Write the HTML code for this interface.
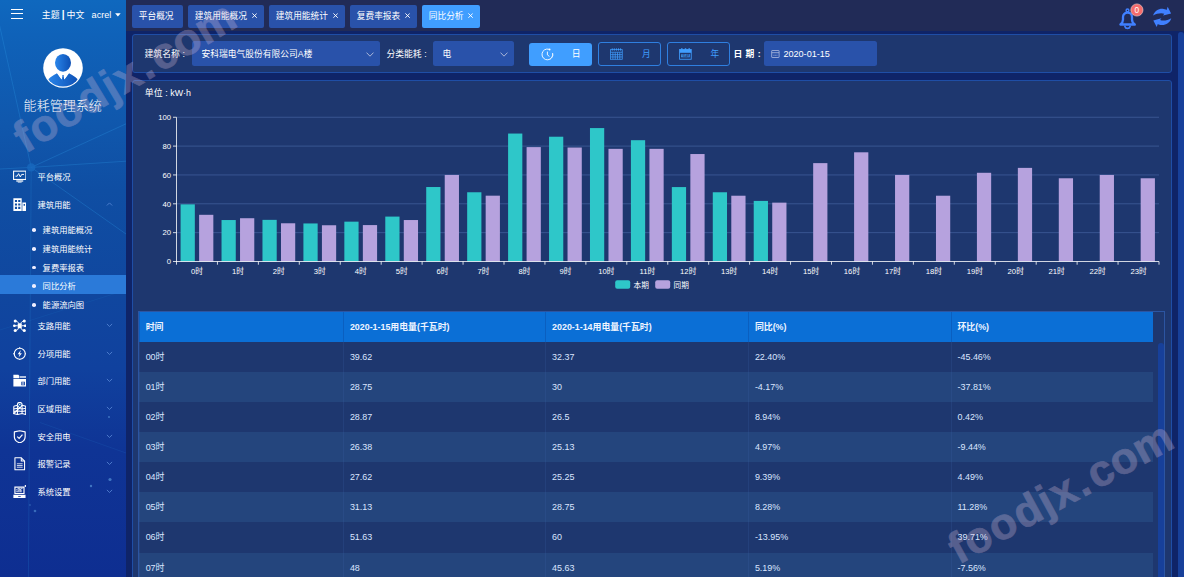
<!DOCTYPE html>
<html lang="zh-CN"><head><meta charset="utf-8"><title>能耗管理系统</title>
<style>
html,body{margin:0;padding:0;background:#0f2468;}
body{width:1184px;height:577px;overflow:hidden;font-family:"Liberation Sans","Noto Sans CJK SC",sans-serif;color:#fff;}
#app{position:relative;width:1184px;height:577px;overflow:hidden;background:#0f2468;}
#side{position:absolute;left:0;top:0;width:125.5px;height:577px;overflow:hidden;
 background:linear-gradient(180deg,#0f68be 0%,#0f62b9 6%,#1057ac 22%,#0f4ea3 33%,#10479f 50%,#10419e 64%,#0f3495 78%,#0e2e91 100%);}
#side .net{position:absolute;left:0;top:0;}
#topbar{position:absolute;left:125.5px;top:0;width:1058.5px;height:31px;background:#212b57;}
.tab{position:absolute;top:5px;height:23px;line-height:22px;background:#2952aa;border-radius:2px;font-size:8.7px;color:#fff;white-space:nowrap;box-sizing:border-box;padding-left:6.6px;}
.tab.on{background:#409eff;}
.tab svg{margin-left:4.6px;position:relative;top:-0.7px;}
.panel{position:absolute;background:#1e376f;border:1px solid #1f4ea6;box-sizing:border-box;border-radius:3px;}
.lbl{position:absolute;font-size:8.8px;white-space:nowrap;line-height:12px;}
.sel{position:absolute;top:41.3px;height:25.2px;background:#2952aa;border-radius:2.5px;font-size:8.75px;line-height:26.4px;box-sizing:border-box;white-space:nowrap;}
.btn{position:absolute;top:42.3px;height:23.6px;border-radius:3px;box-sizing:border-box;}
.ax{font-size:7.7px;fill:#fff;font-family:"Liberation Sans","Noto Sans CJK SC",sans-serif;}
#tbl{position:absolute;left:138.75px;top:0;}
.thead{position:absolute;left:0;top:312px;width:1014.65px;height:29.6px;background:#0b6fd6;}
.th{position:absolute;top:0;height:29.6px;line-height:30px;font-size:8.9px;font-weight:bold;color:#eef4ff;box-sizing:border-box;padding-left:5.9px;border-left:1px solid #0a5fc0;white-space:nowrap;}
.tr{position:absolute;left:0;width:1014.65px;height:30.13px;background:#1e376f;}
.tr.even{background:#24457d;}
.td{position:absolute;top:0;height:30.13px;line-height:31.8px;font-size:8.95px;color:#dbe6ff;box-sizing:border-box;padding-left:5.9px;border-left:1px solid rgba(60,100,170,0.22);white-space:nowrap;}
.mi{position:absolute;left:0;width:125.5px;height:16px;}
.mi .ico{position:absolute;left:12.9px;top:1.2px;width:13.5px;height:13.5px;}
.mi .mt{position:absolute;left:37.4px;top:0;line-height:16px;font-size:8.3px;white-space:nowrap;}
.mi .arr{position:absolute;left:105.5px;top:5.3px;width:7px;height:4.4px;}
.si{position:absolute;left:0;width:125.5px;height:12px;font-size:8.3px;line-height:12px;white-space:nowrap;}
.si .dot{position:absolute;left:32px;top:4.2px;width:3.6px;height:3.6px;border-radius:50%;background:#eef;}
.si span{position:absolute;left:42.6px;top:0;}
.wm{position:absolute;font-family:"Liberation Sans",sans-serif;font-weight:bold;color:rgb(214,188,216);-webkit-text-stroke:0.7px rgb(214,188,216);opacity:0.3;white-space:nowrap;transform-origin:0 100%;line-height:1;letter-spacing:1.1px;}
</style></head><body>
<svg width="0" height="0" style="position:absolute"><defs>
<g id="i1" fill="none" stroke="#fff"><rect x="0.6" y="1.2" width="12.8" height="8.6" stroke-width="1.1"/><path d="M2.6 6.4 L4.4 6.4 L5.8 3.8 L7.6 7.2 L9 4.6 L11.4 4.6" stroke-width="1"/><path d="M3.4 11.4 H10.6" stroke-width="1.3"/><path d="M5 12.6 H9" stroke-width="0.8"/></g>
<g id="i2" fill="#fff"><path d="M0.4 0.2 H9 V14 H0.4 Z M2 2 V4.2 H4.2 V2 Z M5.4 2 V4.2 H7.6 V2 Z M2 5.6 V7.8 H4.2 V5.6 Z M5.4 5.6 V7.8 H7.6 V5.6 Z M2 9.2 V11.4 H4.2 V9.2 Z M5.4 9.2 V11.4 H7.6 V9.2 Z" fill-rule="evenodd"/><path d="M9.7 4.6 H13.6 V14 H9.7 Z M11 6.2 V8 H12.4 V6.2 Z" fill-rule="evenodd"/></g>
<g id="i3" fill="#fff" stroke="#fff"><rect x="4.9" y="4.3" width="4.2" height="5.4" rx="0.9" stroke="none"/><g stroke-width="1" fill="none"><path d="M5.6 4.6 C5.4 3 4.4 2.4 2.6 2.2 M8.4 4.6 C8.6 3 9.6 2.4 11.4 2.2 M5.6 9.4 C5.4 11 4.4 11.6 2.6 11.8 M8.4 9.4 C8.6 11 9.6 11.6 11.4 11.8 M4.9 7 H1.6 M9.1 7 H12.4"/></g><g stroke="none"><circle cx="2.3" cy="2.1" r="1.6"/><circle cx="11.7" cy="2.1" r="1.6"/><circle cx="2.3" cy="11.9" r="1.6"/><circle cx="11.7" cy="11.9" r="1.6"/><circle cx="1.4" cy="7" r="1.4"/><circle cx="12.6" cy="7" r="1.4"/></g></g>
<g id="i4" fill="none" stroke="#fff"><circle cx="7" cy="7" r="5.7" stroke-width="1.2"/><path d="M7 0 V1.6 M7 12.4 V14 M0 7 H1.6 M12.4 7 H14" stroke-width="0.9"/><path d="M8.2 3.2 L4.8 7.6 H6.8 L5.8 10.8 L9.2 6.4 H7.2 Z" fill="#fff" stroke="none"/></g>
<g id="i5" fill="#fff"><path d="M0.4 0.8 H5.6 L6.6 2.2 V4.4 H0.4 Z"/><path d="M7.2 2.4 H13.6 V3.8 H7.2 Z"/><path d="M0.4 5.2 H13.6 V13 H0.4 Z M8.6 8 V11.6 H12.4 V8 Z M9.4 8.9 H11.6 V9.5 H9.4 Z M9.4 10.2 H11.6 V10.8 H9.4 Z" fill-rule="evenodd"/></g>
<g id="i6" fill="none" stroke="#fff" stroke-width="1.1"><path d="M0.8 4.4 L4.6 3.4 M9.4 3.4 L13.2 4.4 V13 L9.4 12 L4.6 13 L0.8 12 Z"/><path d="M0.8 4.4 V12 M4.6 3.6 V13 M9.4 3.6 V12 M0.8 7.2 L4.6 6.4 L9.4 7.2 L13.2 6.4 M0.8 9.8 L4.6 9.2 L9.4 9.8 L13.2 9.2"/><path d="M7 0.4 C5.4 0.4 4.6 1.6 4.6 2.6 C4.6 4 7 6.4 7 6.4 C7 6.4 9.4 4 9.4 2.6 C9.4 1.6 8.6 0.4 7 0.4 Z" fill="#0f50a6"/><circle cx="7" cy="2.6" r="0.7" fill="#fff" stroke="none"/></g>
<g id="i7" fill="none" stroke="#fff" stroke-width="1.2"><path d="M7 0.8 L12.6 2 V7 C12.6 10 10 12.4 7 13.4 C4 12.4 1.4 10 1.4 7 V2 Z" stroke-linejoin="round"/><path d="M4.4 6.8 L6.4 8.8 L9.8 4.8"/></g>
<g id="i8" fill="none" stroke="#fff" stroke-width="1.1"><path d="M2 0.8 H8.6 L12 4.2 V13.2 H2 Z" stroke-linejoin="round"/><path d="M8.6 0.8 V4.2 H12"/><path d="M4 7 H10 M4 8.8 H10 M4 10.6 H10" stroke-width="1" stroke-opacity="0.8"/></g>
<g id="i9" fill="#fff"><path d="M1.4 1.6 H12 V9.4 H1.4 Z M2.6 2.8 V8.2 H10.8 V2.8 Z" fill-rule="evenodd"/><path d="M3.6 7.6 V5.6 H4.8 V7.6 Z M5.6 7.6 V4.4 H6.8 V7.6 Z M7.6 7.6 V5 H8.8 V7.6 Z M3.2 4.6 L6 3.2 L7.6 4 L10 2.8 L10.2 3.4 L7.6 4.8 L6 4 L3.4 5.2 Z"/><path d="M0.4 10.2 H13 V13.4 H0.4 Z M5.4 11.4 V12.2 H8 V11.4 Z" fill-rule="evenodd"/><circle cx="13" cy="1" r="1"/></g>
</defs></svg>

<div id="app">
<div id="side">
<svg class="net" width="126" height="577" viewBox="0 0 126 577">
<g stroke="#2f9be6" stroke-opacity="0.36" stroke-width="0.8" fill="none">
<path d="M-0.5 25 L31.2 167.4 L126 123.8"/><path d="M31.2 167.4 L126 161.2"/><path d="M31.2 167.4 L126 234"/><path d="M31.2 167.4 L0 169"/><path d="M31.2 167.4 L28.4 577" stroke-opacity="0.22"/><path d="M0 330 L126 290" stroke-opacity="0.12"/><path d="M40 422.5 L126 453" stroke-opacity="0.15"/>
</g>
<circle cx="31.2" cy="167.4" r="4.2" fill="#1767bd" fill-opacity="0.85"/>
<circle cx="110" cy="479.5" r="1.6" fill="#62a4e2" fill-opacity="0.6"/><circle cx="91" cy="486" r="1.2" fill="#62a4e2" fill-opacity="0.6"/><circle cx="35" cy="511" r="1.3" fill="#62a4e2" fill-opacity="0.5"/><circle cx="30" cy="505" r="0.8" fill="#62a4e2" fill-opacity="0.5"/><circle cx="109" cy="417" r="0.9" fill="#62a4e2" fill-opacity="0.6"/>
</svg>
<div style="position:absolute;left:0;top:274.5px;width:125.5px;height:19px;background:#2b7ad9;"></div>
<!-- hamburger -->
<div style="position:absolute;left:11.2px;top:8.6px;width:11.9px;height:1.1px;background:#fff"></div>
<div style="position:absolute;left:11.2px;top:13.4px;width:11.9px;height:1.1px;background:#fff"></div>
<div style="position:absolute;left:11.2px;top:18.3px;width:11.9px;height:1.1px;background:#fff"></div>
<div class="lbl" style="left:41.8px;top:9.2px;font-size:8.9px;">主题<span style="margin:0 2px 0 2.2px;font-weight:bold;font-size:10px;position:relative;top:-0.4px">|</span>中文</div>
<div class="lbl" style="left:91.6px;top:9px;font-size:9.1px;">acrel</div>
<svg style="position:absolute;left:115px;top:13.1px" width="6" height="4" viewBox="0 0 6 4"><path d="M0.1 0.2 H5.7 L2.9 3.4 Z" fill="#fff"/></svg>
<svg style="position:absolute;left:43px;top:47.6px" width="40" height="40" viewBox="0 0 40 40">
<defs><linearGradient id="ag" x1="0" x2="1" y1="0" y2="0"><stop offset="0" stop-color="#2a86ea"/><stop offset="1" stop-color="#0c4fb4"/></linearGradient>
<clipPath id="ac"><circle cx="20" cy="20" r="18.6"/></clipPath></defs>
<circle cx="20" cy="20" r="19.8" fill="#fff"/>
<ellipse cx="20" cy="14.8" rx="8" ry="8.9" fill="url(#ag)"/>
<path clip-path="url(#ac)" d="M4 40 L4 33 Q6 29.5 14 25.3 L18.6 31.5 L20 28.5 L21.4 31.5 L26 25.3 Q34 29.5 36 33 L36 40 Z" fill="url(#ag)"/>
<path d="M14.2 25 L17 23.6 L19.3 28.2 L18.4 31 Z M25.8 25 L23 23.6 L20.7 28.2 L21.6 31 Z" fill="#fff"/>
<path d="M19 27.2 L21 27.2 L20.6 28.6 L21.2 31.8 L20 33.2 L18.8 31.8 L19.4 28.6 Z" fill="url(#ag)"/>
</svg>
<div style="position:absolute;left:0;top:97px;width:125.5px;text-align:center;font-size:13px;font-weight:300;line-height:18px;letter-spacing:0.05px;">能耗管理系统</div>
<div class="mi" style="top:168.90px"><svg class="ico" viewBox="0 0 14 14"><use href="#i1"/></svg><span class="mt">平台概况</span>
</div>
<div class="mi" style="top:196.70px"><svg class="ico" viewBox="0 0 14 14"><use href="#i2"/></svg><span class="mt">建筑用能</span>
<svg class="arr" viewBox="0 0 8 5"><path d="M1 4 L4 1 L7 4" fill="none" stroke="#5a8ad8" stroke-width="0.9"/></svg>
</div>
<div class="mi" style="top:318.00px"><svg class="ico" viewBox="0 0 14 14"><use href="#i3"/></svg><span class="mt">支路用能</span>
<svg class="arr" viewBox="0 0 8 5"><path d="M1 1 L4 4 L7 1" fill="none" stroke="#5a8ad8" stroke-width="0.9"/></svg>
</div>
<div class="mi" style="top:345.60px"><svg class="ico" viewBox="0 0 14 14"><use href="#i4"/></svg><span class="mt">分项用能</span>
<svg class="arr" viewBox="0 0 8 5"><path d="M1 1 L4 4 L7 1" fill="none" stroke="#5a8ad8" stroke-width="0.9"/></svg>
</div>
<div class="mi" style="top:373.20px"><svg class="ico" viewBox="0 0 14 14"><use href="#i5"/></svg><span class="mt">部门用能</span>
<svg class="arr" viewBox="0 0 8 5"><path d="M1 1 L4 4 L7 1" fill="none" stroke="#5a8ad8" stroke-width="0.9"/></svg>
</div>
<div class="mi" style="top:400.80px"><svg class="ico" viewBox="0 0 14 14"><use href="#i6"/></svg><span class="mt">区域用能</span>
<svg class="arr" viewBox="0 0 8 5"><path d="M1 1 L4 4 L7 1" fill="none" stroke="#5a8ad8" stroke-width="0.9"/></svg>
</div>
<div class="mi" style="top:428.50px"><svg class="ico" viewBox="0 0 14 14"><use href="#i7"/></svg><span class="mt">安全用电</span>
<svg class="arr" viewBox="0 0 8 5"><path d="M1 1 L4 4 L7 1" fill="none" stroke="#5a8ad8" stroke-width="0.9"/></svg>
</div>
<div class="mi" style="top:456.10px"><svg class="ico" viewBox="0 0 14 14"><use href="#i8"/></svg><span class="mt">报警记录</span>
<svg class="arr" viewBox="0 0 8 5"><path d="M1 1 L4 4 L7 1" fill="none" stroke="#5a8ad8" stroke-width="0.9"/></svg>
</div>
<div class="mi" style="top:483.60px"><svg class="ico" viewBox="0 0 14 14"><use href="#i9"/></svg><span class="mt">系统设置</span>
<svg class="arr" viewBox="0 0 8 5"><path d="M1 1 L4 4 L7 1" fill="none" stroke="#5a8ad8" stroke-width="0.9"/></svg>
</div>
<div class="si" style="top:223.75px"><i class="dot"></i><span>建筑用能概况</span></div>
<div class="si" style="top:242.75px"><i class="dot"></i><span>建筑用能统计</span></div>
<div class="si" style="top:261.50px"><i class="dot"></i><span>复费率报表</span></div>
<div class="si" style="top:280.30px"><i class="dot"></i><span>同比分析</span></div>
<div class="si" style="top:299.20px"><i class="dot"></i><span>能源流向图</span></div>
</div>

<div id="topbar">
<div class="tab" style="left:6.7px;width:51px;">平台概况</div>
<div class="tab" style="left:62.7px;width:76px;">建筑用能概况<svg width="5.2" height="5.2" viewBox="0 0 5 5"><path d="M0.4 0.4 L4.6 4.6 M4.6 0.4 L0.4 4.6" stroke="#fff" stroke-width="0.9" fill="none"/></svg></div>
<div class="tab" style="left:143.7px;width:76px;">建筑用能统计<svg width="5.2" height="5.2" viewBox="0 0 5 5"><path d="M0.4 0.4 L4.6 4.6 M4.6 0.4 L0.4 4.6" stroke="#fff" stroke-width="0.9" fill="none"/></svg></div>
<div class="tab" style="left:224.7px;width:67px;">复费率报表<svg width="5.2" height="5.2" viewBox="0 0 5 5"><path d="M0.4 0.4 L4.6 4.6 M4.6 0.4 L0.4 4.6" stroke="#fff" stroke-width="0.9" fill="none"/></svg></div>
<div class="tab on" style="left:296.7px;width:58px;">同比分析<svg width="5.2" height="5.2" viewBox="0 0 5 5"><path d="M0.4 0.4 L4.6 4.6 M4.6 0.4 L0.4 4.6" stroke="#fff" stroke-width="0.9" fill="none"/></svg></div>
<svg style="position:absolute;left:-125.5px;top:0" width="1184" height="31" viewBox="0 0 1184 31">
<g fill="none" stroke="#4080ff" stroke-linejoin="round" stroke-linecap="round">
<path d="M1120.4 24.5 C1122.4 23 1123 21.5 1123 19.5 L1123 17 C1123 14.4 1125 12.7 1127.5 12.7 C1130 12.7 1132 14.4 1132 17 L1132 19.5 C1132 21.5 1132.6 23 1134.8 24.5 Z" stroke-width="2.3"/>
<circle cx="1127.5" cy="10.4" r="1.4" stroke-width="1.4"/>
<path d="M1124.9 26.4 a2.7 2.7 0 0 0 5.2 0" stroke-width="1.7"/>
</g>
<circle cx="1136.9" cy="10" r="6.1" fill="#f56c6c" stroke="#f9d3d3" stroke-width="0.6"/>
<text x="1136.9" y="13" text-anchor="middle" font-size="8.3" fill="#fff" font-family='"Liberation Sans","Noto Sans CJK SC",sans-serif'>0</text>
<g fill="#4080ff" transform="translate(1110 0)">
<path id="ra" d="M43.1 15.5 C44.4 11 48.5 8.5 52.6 8.7 C54.3 8.8 55.6 9.3 56.6 9.9 L57.7 6.8 L61.1 13.4 L53 15.5 L54.3 13.8 C53.3 13.4 52.3 13.2 51.2 13.2 C48.4 13.2 45.6 13.9 43.1 15.5 Z"/>
<use href="#ra" transform="rotate(180 52.2 16.9)"/>
</g>
</svg>
</div>

<!-- right scrollbar strip -->
<div style="position:absolute;left:1178.4px;top:31.5px;width:6px;height:560px;background:#17409a;border-radius:3px 3px 0 0;"></div>

<!-- filter panel -->
<div class="panel" style="left:131.5px;top:34px;width:1040.7px;height:38.9px;"></div>
<div class="lbl" style="left:144.6px;top:48.3px;">建筑名称<span style="margin-left:2.6px">:</span></div>
<div class="sel" style="left:192px;width:188px;padding-left:9.6px;">安科瑞电气股份有限公司A楼
<svg style="position:absolute;right:6.2px;top:10.6px" width="8" height="5" viewBox="0 0 8 5"><path d="M0.5 0.6 L4 4.2 L7.5 0.6" fill="none" stroke="#c0c8e0" stroke-width="0.85"/></svg></div>
<div class="lbl" style="left:386.4px;top:48.3px;">分类能耗<span style="margin-left:2.6px">:</span></div>
<div class="sel" style="left:433px;width:81px;padding-left:9.6px;">电
<svg style="position:absolute;right:6.2px;top:10.6px" width="8" height="5" viewBox="0 0 8 5"><path d="M0.5 0.6 L4 4.2 L7.5 0.6" fill="none" stroke="#c0c8e0" stroke-width="0.85"/></svg></div>
<div class="btn" style="left:529px;width:63px;background:#409eff;top:42.6px;height:23.4px;">
<svg style="position:absolute;left:11.7px;top:5.3px" width="13" height="13" viewBox="0 0 13 13"><path d="M8.1 1.3 A5.4 5.4 0 1 0 11.6 5" fill="none" stroke="#fff" stroke-width="0.9"/><circle cx="8.6" cy="1.5" r="0.9" fill="#fff"/><path d="M6.4 3.6 L6.4 6.9 L8.4 8.4" fill="none" stroke="#fff" stroke-width="0.9"/><path d="M11.7 6.5 A5.4 5.4 0 0 1 9.5 10.9" fill="none" stroke="#fff" stroke-width="0.9" stroke-dasharray="1.2 0.9"/></svg>
<span style="position:absolute;left:42.8px;top:5.8px;font-size:8.8px;line-height:12px;">日</span></div>
<div class="btn" style="left:598px;width:63px;border:1px solid #2f7fe0;">
<svg style="position:absolute;left:11px;top:4.8px" width="13" height="12" viewBox="0 0 14 13"><g fill="none" stroke="#409eff" stroke-width="0.8"><rect x="0.6" y="1.8" width="12.6" height="10.4"/><path d="M0.6 4.6 H13.2 M0.6 7.2 H13.2 M0.6 9.7 H13.2 M3.1 4.6 V12.2 M5.6 4.6 V12.2 M8.1 4.6 V12.2 M10.6 4.6 V12.2"/><path d="M2.4 0.4 V2.8 M4.6 0.4 V2.8 M6.9 0.4 V2.8 M9.2 0.4 V2.8 M11.4 0.4 V2.8" stroke-width="1"/></g></svg>
<span style="position:absolute;left:43px;top:4.8px;font-size:8.6px;line-height:12px;color:#409eff;">月</span></div>
<div class="btn" style="left:667px;width:63px;border:1px solid #2f7fe0;">
<svg style="position:absolute;left:10.9px;top:4.9px" width="13" height="12" viewBox="0 0 14 13"><rect x="0.6" y="1.6" width="12.6" height="3.6" fill="#409eff"/><rect x="0.6" y="1.6" width="12.6" height="10.6" fill="none" stroke="#409eff" stroke-width="0.9"/><path d="M3 0.3 V2 M7 0.3 V2 M11 0.3 V2" stroke="#409eff" stroke-width="1.6"/><rect x="2.2" y="6.6" width="9.4" height="3.4" fill="#409eff"/><text x="6.9" y="9.5" text-anchor="middle" font-size="3.2" font-weight="bold" fill="#1e376f" font-family="Liberation Sans,sans-serif">YEAR</text></svg>
<span style="position:absolute;left:42.4px;top:4.8px;font-size:8.6px;line-height:12px;color:#409eff;">年</span></div>
<div class="lbl" style="left:733.4px;top:48.3px;font-weight:bold;">日<span style="margin-left:3.2px">期</span><span style="margin-left:3.6px">:</span></div>
<div class="sel" style="left:764px;width:113px;padding-left:19.4px;font-size:9.1px;">2020-01-15
<svg style="position:absolute;left:7px;top:8.2px" width="9" height="9" viewBox="0 0 9 9"><rect x="0.7" y="1.5" width="7.4" height="7" rx="0.4" fill="none" stroke="#aebbe0" stroke-width="0.8"/><path d="M0.7 3.7 H8.1" stroke="#aebbe0" stroke-width="0.8"/><path d="M2.3 6.3 H6.5" stroke="#aebbe0" stroke-width="1.1" stroke-opacity="0.6" stroke-dasharray="1.2 0.3"/></svg></div>

<!-- chart+table panel -->
<div class="panel" style="left:131.5px;top:79.7px;width:1040.7px;height:520px;"></div>
<div class="lbl" style="left:144.8px;top:87.2px;font-size:8.9px;">单位<span style="margin:0 2.4px 0 2.8px">:</span>kW·h</div>
<svg style="position:absolute;left:0;top:0" width="1184" height="577" viewBox="0 0 1184 577">
<line x1="176.5" x2="1159.0" y1="232.65" y2="232.65" stroke="#405d9a" stroke-width="0.8"/>
<line x1="176.5" x2="1159.0" y1="203.80" y2="203.80" stroke="#405d9a" stroke-width="0.8"/>
<line x1="176.5" x2="1159.0" y1="174.95" y2="174.95" stroke="#405d9a" stroke-width="0.8"/>
<line x1="176.5" x2="1159.0" y1="146.10" y2="146.10" stroke="#405d9a" stroke-width="0.8"/>
<line x1="176.5" x2="1159.0" y1="117.25" y2="117.25" stroke="#405d9a" stroke-width="0.8"/>
<rect x="180.59" y="204.35" width="14.24" height="57.15" fill="#2ec7c9"/>
<rect x="199.10" y="214.81" width="14.24" height="46.69" fill="#b6a2de"/>
<rect x="221.53" y="220.03" width="14.24" height="41.47" fill="#2ec7c9"/>
<rect x="240.04" y="218.22" width="14.24" height="43.28" fill="#b6a2de"/>
<rect x="262.47" y="219.86" width="14.24" height="41.64" fill="#2ec7c9"/>
<rect x="280.98" y="223.27" width="14.24" height="38.23" fill="#b6a2de"/>
<rect x="303.41" y="223.45" width="14.24" height="38.05" fill="#2ec7c9"/>
<rect x="321.92" y="225.25" width="14.24" height="36.25" fill="#b6a2de"/>
<rect x="344.34" y="221.66" width="14.24" height="39.84" fill="#2ec7c9"/>
<rect x="362.85" y="225.08" width="14.24" height="36.42" fill="#b6a2de"/>
<rect x="385.28" y="216.59" width="14.24" height="44.91" fill="#2ec7c9"/>
<rect x="403.79" y="220.03" width="14.24" height="41.47" fill="#b6a2de"/>
<rect x="426.22" y="187.02" width="14.24" height="74.48" fill="#2ec7c9"/>
<rect x="444.73" y="174.95" width="14.24" height="86.55" fill="#b6a2de"/>
<rect x="467.16" y="192.26" width="14.24" height="69.24" fill="#2ec7c9"/>
<rect x="485.67" y="195.68" width="14.24" height="65.82" fill="#b6a2de"/>
<rect x="508.09" y="133.55" width="14.24" height="127.95" fill="#2ec7c9"/>
<rect x="526.60" y="147.11" width="14.24" height="114.39" fill="#b6a2de"/>
<rect x="549.03" y="136.72" width="14.24" height="124.78" fill="#2ec7c9"/>
<rect x="567.54" y="147.54" width="14.24" height="113.96" fill="#b6a2de"/>
<rect x="589.97" y="128.07" width="14.24" height="133.43" fill="#2ec7c9"/>
<rect x="608.48" y="148.84" width="14.24" height="112.66" fill="#b6a2de"/>
<rect x="630.91" y="140.19" width="14.24" height="121.31" fill="#2ec7c9"/>
<rect x="649.42" y="148.84" width="14.24" height="112.66" fill="#b6a2de"/>
<rect x="671.84" y="187.07" width="14.24" height="74.43" fill="#2ec7c9"/>
<rect x="690.35" y="154.03" width="14.24" height="107.47" fill="#b6a2de"/>
<rect x="712.78" y="192.26" width="14.24" height="69.24" fill="#2ec7c9"/>
<rect x="731.29" y="195.72" width="14.24" height="65.78" fill="#b6a2de"/>
<rect x="753.72" y="200.91" width="14.24" height="60.59" fill="#2ec7c9"/>
<rect x="772.23" y="202.65" width="14.24" height="58.85" fill="#b6a2de"/>
<rect x="813.17" y="163.12" width="14.24" height="98.38" fill="#b6a2de"/>
<rect x="854.10" y="152.30" width="14.24" height="109.20" fill="#b6a2de"/>
<rect x="895.04" y="174.95" width="14.24" height="86.55" fill="#b6a2de"/>
<rect x="935.98" y="195.72" width="14.24" height="65.78" fill="#b6a2de"/>
<rect x="976.92" y="172.79" width="14.24" height="88.71" fill="#b6a2de"/>
<rect x="1017.85" y="167.88" width="14.24" height="93.62" fill="#b6a2de"/>
<rect x="1058.79" y="178.27" width="14.24" height="83.23" fill="#b6a2de"/>
<rect x="1099.73" y="174.95" width="14.24" height="86.55" fill="#b6a2de"/>
<rect x="1140.67" y="178.27" width="14.24" height="83.23" fill="#b6a2de"/>
<line x1="176.5" x2="176.5" y1="117.25" y2="262.0" stroke="#fff" stroke-width="0.8"/>
<line x1="176.0" x2="1159.0" y1="261.5" y2="261.5" stroke="#fff" stroke-width="0.8"/>
<line x1="173.0" x2="176.5" y1="261.50" y2="261.50" stroke="#fff" stroke-width="0.8"/>
<text x="171.0" y="264.20" text-anchor="end" class="ax">0</text>
<line x1="173.0" x2="176.5" y1="232.65" y2="232.65" stroke="#fff" stroke-width="0.8"/>
<text x="171.0" y="235.35" text-anchor="end" class="ax">20</text>
<line x1="173.0" x2="176.5" y1="203.80" y2="203.80" stroke="#fff" stroke-width="0.8"/>
<text x="171.0" y="206.50" text-anchor="end" class="ax">40</text>
<line x1="173.0" x2="176.5" y1="174.95" y2="174.95" stroke="#fff" stroke-width="0.8"/>
<text x="171.0" y="177.65" text-anchor="end" class="ax">60</text>
<line x1="173.0" x2="176.5" y1="146.10" y2="146.10" stroke="#fff" stroke-width="0.8"/>
<text x="171.0" y="148.80" text-anchor="end" class="ax">80</text>
<line x1="173.0" x2="176.5" y1="117.25" y2="117.25" stroke="#fff" stroke-width="0.8"/>
<text x="171.0" y="119.95" text-anchor="end" class="ax">100</text>
<line x1="176.50" x2="176.50" y1="261.5" y2="264.7" stroke="#fff" stroke-width="0.8"/>
<line x1="217.44" x2="217.44" y1="261.5" y2="264.7" stroke="#fff" stroke-width="0.8"/>
<line x1="258.38" x2="258.38" y1="261.5" y2="264.7" stroke="#fff" stroke-width="0.8"/>
<line x1="299.31" x2="299.31" y1="261.5" y2="264.7" stroke="#fff" stroke-width="0.8"/>
<line x1="340.25" x2="340.25" y1="261.5" y2="264.7" stroke="#fff" stroke-width="0.8"/>
<line x1="381.19" x2="381.19" y1="261.5" y2="264.7" stroke="#fff" stroke-width="0.8"/>
<line x1="422.12" x2="422.12" y1="261.5" y2="264.7" stroke="#fff" stroke-width="0.8"/>
<line x1="463.06" x2="463.06" y1="261.5" y2="264.7" stroke="#fff" stroke-width="0.8"/>
<line x1="504.00" x2="504.00" y1="261.5" y2="264.7" stroke="#fff" stroke-width="0.8"/>
<line x1="544.94" x2="544.94" y1="261.5" y2="264.7" stroke="#fff" stroke-width="0.8"/>
<line x1="585.88" x2="585.88" y1="261.5" y2="264.7" stroke="#fff" stroke-width="0.8"/>
<line x1="626.81" x2="626.81" y1="261.5" y2="264.7" stroke="#fff" stroke-width="0.8"/>
<line x1="667.75" x2="667.75" y1="261.5" y2="264.7" stroke="#fff" stroke-width="0.8"/>
<line x1="708.69" x2="708.69" y1="261.5" y2="264.7" stroke="#fff" stroke-width="0.8"/>
<line x1="749.62" x2="749.62" y1="261.5" y2="264.7" stroke="#fff" stroke-width="0.8"/>
<line x1="790.56" x2="790.56" y1="261.5" y2="264.7" stroke="#fff" stroke-width="0.8"/>
<line x1="831.50" x2="831.50" y1="261.5" y2="264.7" stroke="#fff" stroke-width="0.8"/>
<line x1="872.44" x2="872.44" y1="261.5" y2="264.7" stroke="#fff" stroke-width="0.8"/>
<line x1="913.38" x2="913.38" y1="261.5" y2="264.7" stroke="#fff" stroke-width="0.8"/>
<line x1="954.31" x2="954.31" y1="261.5" y2="264.7" stroke="#fff" stroke-width="0.8"/>
<line x1="995.25" x2="995.25" y1="261.5" y2="264.7" stroke="#fff" stroke-width="0.8"/>
<line x1="1036.19" x2="1036.19" y1="261.5" y2="264.7" stroke="#fff" stroke-width="0.8"/>
<line x1="1077.12" x2="1077.12" y1="261.5" y2="264.7" stroke="#fff" stroke-width="0.8"/>
<line x1="1118.06" x2="1118.06" y1="261.5" y2="264.7" stroke="#fff" stroke-width="0.8"/>
<line x1="1159.00" x2="1159.00" y1="261.5" y2="264.7" stroke="#fff" stroke-width="0.8"/>
<text x="196.97" y="273.9" text-anchor="middle" class="ax">0时</text>
<text x="237.91" y="273.9" text-anchor="middle" class="ax">1时</text>
<text x="278.84" y="273.9" text-anchor="middle" class="ax">2时</text>
<text x="319.78" y="273.9" text-anchor="middle" class="ax">3时</text>
<text x="360.72" y="273.9" text-anchor="middle" class="ax">4时</text>
<text x="401.66" y="273.9" text-anchor="middle" class="ax">5时</text>
<text x="442.59" y="273.9" text-anchor="middle" class="ax">6时</text>
<text x="483.53" y="273.9" text-anchor="middle" class="ax">7时</text>
<text x="524.47" y="273.9" text-anchor="middle" class="ax">8时</text>
<text x="565.41" y="273.9" text-anchor="middle" class="ax">9时</text>
<text x="606.34" y="273.9" text-anchor="middle" class="ax">10时</text>
<text x="647.28" y="273.9" text-anchor="middle" class="ax">11时</text>
<text x="688.22" y="273.9" text-anchor="middle" class="ax">12时</text>
<text x="729.16" y="273.9" text-anchor="middle" class="ax">13时</text>
<text x="770.09" y="273.9" text-anchor="middle" class="ax">14时</text>
<text x="811.03" y="273.9" text-anchor="middle" class="ax">15时</text>
<text x="851.97" y="273.9" text-anchor="middle" class="ax">16时</text>
<text x="892.91" y="273.9" text-anchor="middle" class="ax">17时</text>
<text x="933.84" y="273.9" text-anchor="middle" class="ax">18时</text>
<text x="974.78" y="273.9" text-anchor="middle" class="ax">19时</text>
<text x="1015.72" y="273.9" text-anchor="middle" class="ax">20时</text>
<text x="1056.66" y="273.9" text-anchor="middle" class="ax">21时</text>
<text x="1097.59" y="273.9" text-anchor="middle" class="ax">22时</text>
<text x="1138.53" y="273.9" text-anchor="middle" class="ax">23时</text>
<rect x="615.2" y="280.2" width="15" height="8.6" rx="2" fill="#2ec7c9"/>
<text x="633.5" y="287.5" class="ax">本期</text>
<rect x="655.2" y="280.2" width="15" height="8.6" rx="2" fill="#b6a2de"/>
<text x="673.5" y="287.5" class="ax">同期</text>
</svg>
<div id="tbl">
<div style="position:absolute;left:-0.6px;top:311.4px;width:1026.4px;height:300px;border:1px solid #2c55a2;box-sizing:border-box;"></div>
<div style="position:absolute;left:1019.6px;top:342.8px;width:5.6px;height:300px;background:#17409a;border-radius:3px;"></div>
<div class="thead">
<span class="th" style="left:0.00px;width:204.25px">时间</span>
<span class="th" style="left:204.25px;width:202.20px">2020-1-15用电量(千瓦时)</span>
<span class="th" style="left:406.45px;width:202.80px">2020-1-14用电量(千瓦时)</span>
<span class="th" style="left:609.25px;width:202.60px">同比(%)</span>
<span class="th" style="left:811.85px;width:202.80px">环比(%)</span>
</div>
<div class="tr" style="top:341.60px">
<span class="td" style="left:0.00px;width:204.25px">00时</span>
<span class="td" style="left:204.25px;width:202.20px">39.62</span>
<span class="td" style="left:406.45px;width:202.80px">32.37</span>
<span class="td" style="left:609.25px;width:202.60px">22.40%</span>
<span class="td" style="left:811.85px;width:202.80px">-45.46%</span>
</div>
<div class="tr even" style="top:371.73px">
<span class="td" style="left:0.00px;width:204.25px">01时</span>
<span class="td" style="left:204.25px;width:202.20px">28.75</span>
<span class="td" style="left:406.45px;width:202.80px">30</span>
<span class="td" style="left:609.25px;width:202.60px">-4.17%</span>
<span class="td" style="left:811.85px;width:202.80px">-37.81%</span>
</div>
<div class="tr" style="top:401.86px">
<span class="td" style="left:0.00px;width:204.25px">02时</span>
<span class="td" style="left:204.25px;width:202.20px">28.87</span>
<span class="td" style="left:406.45px;width:202.80px">26.5</span>
<span class="td" style="left:609.25px;width:202.60px">8.94%</span>
<span class="td" style="left:811.85px;width:202.80px">0.42%</span>
</div>
<div class="tr even" style="top:431.99px">
<span class="td" style="left:0.00px;width:204.25px">03时</span>
<span class="td" style="left:204.25px;width:202.20px">26.38</span>
<span class="td" style="left:406.45px;width:202.80px">25.13</span>
<span class="td" style="left:609.25px;width:202.60px">4.97%</span>
<span class="td" style="left:811.85px;width:202.80px">-9.44%</span>
</div>
<div class="tr" style="top:462.12px">
<span class="td" style="left:0.00px;width:204.25px">04时</span>
<span class="td" style="left:204.25px;width:202.20px">27.62</span>
<span class="td" style="left:406.45px;width:202.80px">25.25</span>
<span class="td" style="left:609.25px;width:202.60px">9.39%</span>
<span class="td" style="left:811.85px;width:202.80px">4.49%</span>
</div>
<div class="tr even" style="top:492.25px">
<span class="td" style="left:0.00px;width:204.25px">05时</span>
<span class="td" style="left:204.25px;width:202.20px">31.13</span>
<span class="td" style="left:406.45px;width:202.80px">28.75</span>
<span class="td" style="left:609.25px;width:202.60px">8.28%</span>
<span class="td" style="left:811.85px;width:202.80px">11.28%</span>
</div>
<div class="tr" style="top:522.38px">
<span class="td" style="left:0.00px;width:204.25px">06时</span>
<span class="td" style="left:204.25px;width:202.20px">51.63</span>
<span class="td" style="left:406.45px;width:202.80px">60</span>
<span class="td" style="left:609.25px;width:202.60px">-13.95%</span>
<span class="td" style="left:811.85px;width:202.80px">39.71%</span>
</div>
<div class="tr even" style="top:552.51px">
<span class="td" style="left:0.00px;width:204.25px">07时</span>
<span class="td" style="left:204.25px;width:202.20px">48</span>
<span class="td" style="left:406.45px;width:202.80px">45.63</span>
<span class="td" style="left:609.25px;width:202.60px">5.19%</span>
<span class="td" style="left:811.85px;width:202.80px">-7.56%</span>
</div>
</div>

<div class="wm" style="left:28.5px;top:116px;font-size:44.5px;transform:rotate(-31deg);"><span style="letter-spacing:1.3px">foodjx</span><span style="margin:0 2px 0 1px">.</span><span style="letter-spacing:0.4px">com</span></div>
<div class="wm" style="left:962.2px;top:526.8px;font-size:44px;transform:rotate(-28.5deg);"><span style="letter-spacing:1.4px">foodjx</span><span style="margin:0 2px 0 1px">.</span><span style="letter-spacing:0.4px">com</span></div>
</div>
</body></html>
